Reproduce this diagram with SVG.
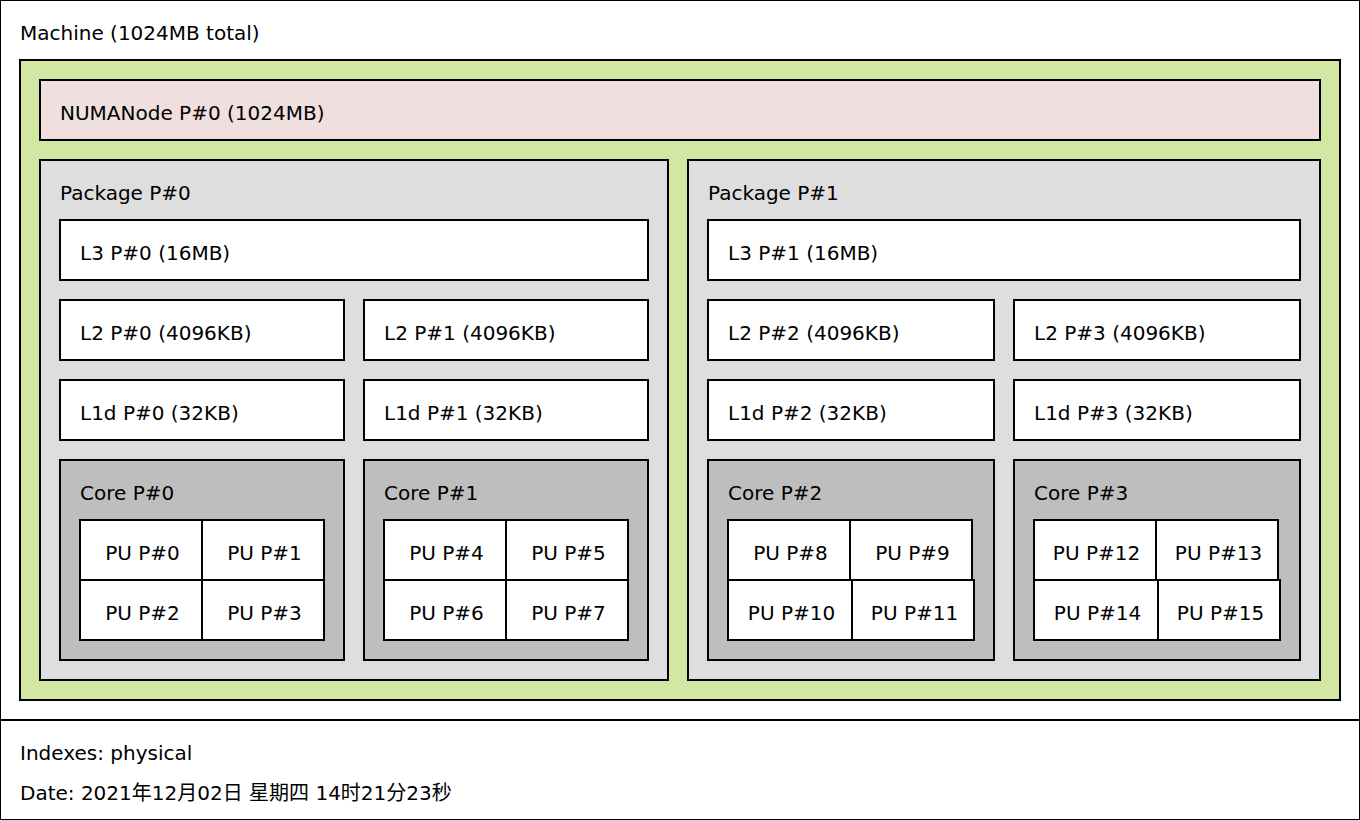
<svg xmlns="http://www.w3.org/2000/svg" width="1360" height="820" viewBox="0 0 1360 820">
<style>
rect{stroke:#000;stroke-width:2}
text{font-family:"DejaVu Sans","Noto Sans CJK SC",sans-serif;font-size:20px;fill:#000}
.w{fill:#fff}
.grp{fill:#d2e7a4}
.numa{fill:#efdfde}
.pkg{fill:#dedede}
.core{fill:#bebebe}
.c{text-anchor:middle}
</style>
<g id="machine">
<rect class="w" x="0" y="0" width="1360" height="720"/>
<text x="20" y="40">Machine (1024MB total)</text>
</g>
<g id="group"><rect class="grp" x="20" y="60" width="1320" height="640"/></g>
<g id="numanode">
<rect class="numa" x="40" y="80" width="1280" height="60"/>
<text x="60" y="120">NUMANode P#0 (1024MB)</text>
</g>
<g id="package0">
<rect class="pkg" x="40" y="160" width="628" height="520"/>
<text x="60" y="200">Package P#0</text>
</g>
<g id="package1">
<rect class="pkg" x="688" y="160" width="632" height="520"/>
<text x="708" y="200">Package P#1</text>
</g>
<g id="l3-0"><rect class="w" x="60" y="220" width="588" height="60"/><text x="80" y="260">L3 P#0 (16MB)</text></g>
<g id="l3-1"><rect class="w" x="708" y="220" width="592" height="60"/><text x="728" y="260">L3 P#1 (16MB)</text></g>
<g id="l2-0"><rect class="w" x="60" y="300" width="284" height="60"/><text x="80" y="340">L2 P#0 (4096KB)</text></g>
<g id="l2-1"><rect class="w" x="364" y="300" width="284" height="60"/><text x="384" y="340">L2 P#1 (4096KB)</text></g>
<g id="l2-2"><rect class="w" x="708" y="300" width="286" height="60"/><text x="728" y="340">L2 P#2 (4096KB)</text></g>
<g id="l2-3"><rect class="w" x="1014" y="300" width="286" height="60"/><text x="1034" y="340">L2 P#3 (4096KB)</text></g>
<g id="l1d-0"><rect class="w" x="60" y="380" width="284" height="60"/><text x="80" y="420">L1d P#0 (32KB)</text></g>
<g id="l1d-1"><rect class="w" x="364" y="380" width="284" height="60"/><text x="384" y="420">L1d P#1 (32KB)</text></g>
<g id="l1d-2"><rect class="w" x="708" y="380" width="286" height="60"/><text x="728" y="420">L1d P#2 (32KB)</text></g>
<g id="l1d-3"><rect class="w" x="1014" y="380" width="286" height="60"/><text x="1034" y="420">L1d P#3 (32KB)</text></g>
<g id="core0"><rect class="core" x="60" y="460" width="284" height="200"/><text x="80" y="500">Core P#0</text></g>
<g id="core1"><rect class="core" x="364" y="460" width="284" height="200"/><text x="384" y="500">Core P#1</text></g>
<g id="core2"><rect class="core" x="708" y="460" width="286" height="200"/><text x="728" y="500">Core P#2</text></g>
<g id="core3"><rect class="core" x="1014" y="460" width="286" height="200"/><text x="1034" y="500">Core P#3</text></g>
<g id="pu0"><rect class="w" x="80" y="520" width="122" height="60"/><text class="c" x="142.5" y="560">PU P#0</text></g>
<g id="pu1"><rect class="w" x="202" y="520" width="122" height="60"/><text class="c" x="264.5" y="560">PU P#1</text></g>
<g id="pu2"><rect class="w" x="80" y="580" width="122" height="60"/><text class="c" x="142.5" y="620">PU P#2</text></g>
<g id="pu3"><rect class="w" x="202" y="580" width="122" height="60"/><text class="c" x="264.5" y="620">PU P#3</text></g>
<g id="pu4"><rect class="w" x="384" y="520" width="122" height="60"/><text class="c" x="446.5" y="560">PU P#4</text></g>
<g id="pu5"><rect class="w" x="506" y="520" width="122" height="60"/><text class="c" x="568.5" y="560">PU P#5</text></g>
<g id="pu6"><rect class="w" x="384" y="580" width="122" height="60"/><text class="c" x="446.5" y="620">PU P#6</text></g>
<g id="pu7"><rect class="w" x="506" y="580" width="122" height="60"/><text class="c" x="568.5" y="620">PU P#7</text></g>
<g id="pu8"><rect class="w" x="728" y="520" width="122" height="60"/><text class="c" x="790.5" y="560">PU P#8</text></g>
<g id="pu9"><rect class="w" x="850" y="520" width="122" height="60"/><text class="c" x="912.5" y="560">PU P#9</text></g>
<g id="pu10"><rect class="w" x="728" y="580" width="124" height="60"/><text class="c" x="791.5" y="620">PU P#10</text></g>
<g id="pu11"><rect class="w" x="852" y="580" width="122" height="60"/><text class="c" x="914.5" y="620">PU P#11</text></g>
<g id="pu12"><rect class="w" x="1034" y="520" width="122" height="60"/><text class="c" x="1096.5" y="560">PU P#12</text></g>
<g id="pu13"><rect class="w" x="1156" y="520" width="122" height="60"/><text class="c" x="1218.5" y="560">PU P#13</text></g>
<g id="pu14"><rect class="w" x="1034" y="580" width="124" height="60"/><text class="c" x="1097.5" y="620">PU P#14</text></g>
<g id="pu15"><rect class="w" x="1158" y="580" width="122" height="60"/><text class="c" x="1220.5" y="620">PU P#15</text></g>
<g id="legend">
<rect class="w" x="0" y="720" width="1360" height="100"/>
<text x="20" y="760">Indexes: physical</text>
<text x="20" y="800">Date: 2021年12月02日 星期四 14时21分23秒</text>
</g>
<g id="connectors"/>
</svg>
